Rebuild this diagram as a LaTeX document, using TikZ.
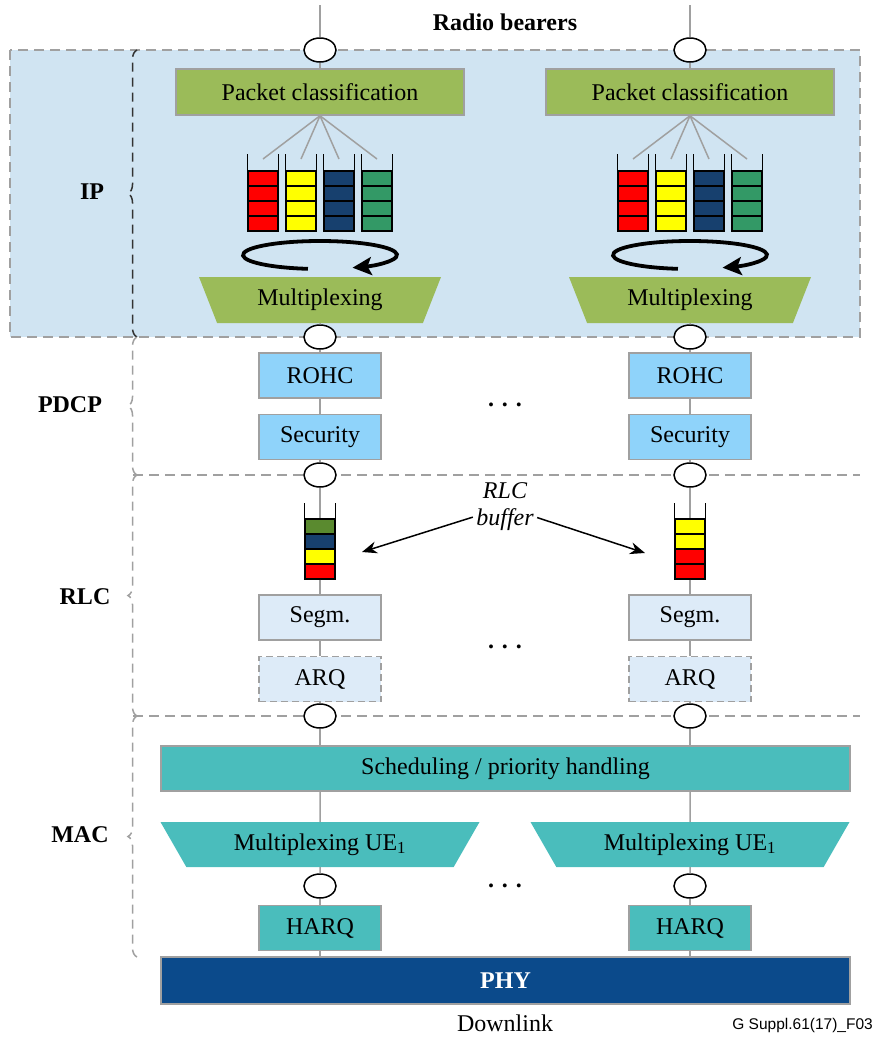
\documentclass[tikz,border=0pt]{standalone}
\usepackage{fontspec}
\setmainfont{Liberation Serif}
\newfontfamily\figsans{Liberation Sans}
\usepackage{tikz}
\usetikzlibrary{shapes.geometric, arrows.meta, decorations.pathreplacing, positioning}

\definecolor{ipblue}{HTML}{D0E4F2}
\definecolor{pcgreen}{HTML}{9BBB59}
\definecolor{pdcpblue}{HTML}{8FD3FA}
\definecolor{rlcpale}{HTML}{DDEBF8}
\definecolor{macteal}{HTML}{4ABDBC}
\definecolor{phynavy}{HTML}{0B4A8B}
\definecolor{linegray}{HTML}{A0A0A0}
\definecolor{qred}{HTML}{FF0000}
\definecolor{qyellow}{HTML}{FFFF00}
\definecolor{qnavy}{HTML}{17406E}
\definecolor{qgreen}{HTML}{339966}
\definecolor{bgreen}{HTML}{5A8A2F}

\begin{document}
\begin{tikzpicture}[x=1pt, y=-1pt, font=\fontsize{24}{27}\selectfont,
    link/.style={draw=linegray, line width=1.5pt},
    sep/.style={draw=linegray, line width=1.5pt, dash pattern=on 10pt off 6pt},
    layerbrace/.style={decorate, decoration={brace, amplitude=9pt}, line width=1.5pt, dash pattern=on 9pt off 6pt},
    port/.style={draw, ellipse, fill=white, line width=1.5pt, minimum width=32pt, minimum height=24pt, inner sep=0pt},
    box/.style={draw=linegray, line width=1.5pt, rectangle, minimum width=122pt, minimum height=45pt, inner sep=2pt, text centered},
    pcbox/.style={box, fill=pcgreen, minimum width=288pt, minimum height=46pt},
    pdcpbox/.style={box, fill=pdcpblue},
    rlcbox/.style={box, fill=rlcpale},
    macbox/.style={box, fill=macteal},
    mux/.style={trapezium, shape border rotate=180, trapezium stretches body, draw=none, inner sep=2pt},
    cell/.style={draw, rectangle, line width=1.3pt, minimum width=30pt, minimum height=15pt, inner sep=0pt},
    wall/.style={draw, line width=1.6pt},
    ptr/.style={-{Stealth[length=15pt, width=12pt]}, line width=1.5pt},
    layer/.style={font=\fontsize{24}{27}\selectfont\bfseries},
    dots/.style={font=\fontsize{24}{27}\selectfont\bfseries}]

    \useasboundingbox (0,0) rectangle (875,1037);

    % IP area and layer borders
    \draw[sep, fill=ipblue] (10,50) rectangle (860,337);
    \draw[sep] (133,475) -- (860,475);
    \draw[sep] (133,716) -- (860,716);

    \draw[layerbrace, draw=black!80] (137,337) -- (137,50);
    \draw[layerbrace, draw=linegray] (137,475) -- (137,337);
    \draw[layerbrace, draw=linegray] (137,716) -- (137,475);
    \draw[layerbrace, draw=linegray] (137,957) -- (137,716);

    \node[layer] (ip) at (92,192) {IP};
    \node[layer] (pdcp) at (70,405) {PDCP};
    \node[layer] (rlc) at (85,597) {RLC};
    \node[layer] (mac) at (80,835) {MAC};

    \node[font=\fontsize{24}{27}\selectfont\bfseries] (bearers) at (505,22) {Radio bearers};

    % ---------------------------------------------------------

    \foreach \cx/\s in {320/A, 690/B} {
        \coordinate (top\s) at (\cx,5);
        \node[port] (e1\s) at (\cx,50) {};
        \node[pcbox] (pc\s) at (\cx,92) {Packet classification};

        \foreach \dx/\col [count=\k] in {-57/qred, -19/qyellow, 19/qnavy, 57/qgreen} {
            \foreach \j in {1,...,4}
                \node[cell, fill=\col] (q\s\k\j) at (\cx+\dx,163.5+15*\j) {};
            \draw[wall] ([yshift=16pt]q\s\k1.north west) -- (q\s\k4.south west)
                -- (q\s\k4.south east) -- ([yshift=16pt]q\s\k1.north east);
            \coordinate (qtop\s\k) at (\cx+\dx,159);
            \draw[link] (pc\s.south) -- (qtop\s\k);
        }

        \draw[line width=3.8pt, -{Stealth[length=19pt, width=18pt, inset=4pt]}]
            (\cx,255) ++(99:77 and 14) arc[start angle=99, end angle=425, x radius=77, y radius=14];

        \node[mux, fill=pcgreen, trapezium left angle=55, trapezium right angle=55,
            minimum width=242pt, minimum height=46pt] (mx\s) at (\cx,300) {Multiplexing};
        \node[port] (e2\s) at (\cx,337) {};

        \node[pdcpbox] (rohc\s) at (\cx,375.5) {ROHC};
        \node[pdcpbox, below=15pt of rohc\s] (sec\s) {Security};
        \node[port] (e3\s) at (\cx,475) {};

        \node[rlcbox] (segm\s) at (\cx,617.5) {Segm.};
        \node[rlcbox, dash pattern=on 7pt off 4pt, below=15pt of segm\s] (arq\s) {ARQ};
        \node[port] (e4\s) at (\cx,716) {};

        \node[mux, fill=macteal, trapezium left angle=45, trapezium right angle=45,
            minimum width=319pt, minimum height=45pt] (mxue\s) at (\cx,844.5) {Multiplexing UE\textsubscript{1}};
        \node[port] (e5\s) at (\cx,886) {};
        \node[macbox] (harq\s) at (\cx,928) {HARQ};
    }

    % RLC buffers
    \foreach \col [count=\j] in {bgreen,qnavy,qyellow,qred}
        \node[cell, fill=\col] (bufA\j) at (320,511.5+15*\j) {};
    \foreach \col [count=\j] in {qyellow,qyellow,qred,qred}
        \node[cell, fill=\col] (bufB\j) at (690,511.5+15*\j) {};
    \foreach \s in {A, B}
        \draw[wall] ([yshift=15pt]buf\s1.north west) -- (buf\s4.south west)
            -- (buf\s4.south east) -- ([yshift=15pt]buf\s1.north east);

    \node[font=\fontsize{24}{27}\selectfont\itshape, align=center] (rlcbuf) at (505,507) {RLC\\buffer};
    \coordinate (tipA) at (362,552);
    \coordinate (tipB) at (645,553);

    \node[macbox, minimum width=689pt] (sched) at (505.5,768.5) {Scheduling / priority handling};
    \node[box, fill=phynavy, text=white, font=\fontsize{24}{27}\selectfont\bfseries,
        minimum width=689pt, minimum height=47pt] (phy) at (505.5,980.5) {PHY};

    \node[dots] (dotsP) at (505,405) {. . .};
    \node[dots] (dotsR) at (505,647) {. . .};
    \node[dots] (dotsM) at (505,886) {. . .};

    \node[anchor=base, inner sep=0pt] (downlink) at (505,1031) {Downlink};
    \node[font=\figsans\fontsize{15.5}{18}\selectfont, anchor=east, inner sep=0pt] (code) at (873,1025) {G Suppl.61(17)\_F03};

    % ---------------------------------------------------------

    \foreach \s in {A, B} {
        \path[link]
        {
            (top\s) edge (e1\s)
            (e1\s) edge (pc\s)
            (mx\s) edge (e2\s)
            (e2\s) edge (rohc\s)
            (rohc\s) edge (sec\s)
            (sec\s) edge (e3\s)
            (e3\s) edge (buf\s1)
            (buf\s4) edge (segm\s)
            (segm\s) edge (arq\s)
            (arq\s) edge (e4\s)
            (e4\s) edge (sched.north -| e4\s)
            (sched.south -| mxue\s) edge (mxue\s)
            (mxue\s) edge (e5\s)
            (e5\s) edge (harq\s)
            (harq\s) edge (phy.north -| harq\s)
        };
    }

    \draw[ptr] (rlcbuf) -- (tipA);
    \draw[ptr] (rlcbuf) -- (tipB);
\end{tikzpicture}
\end{document}
